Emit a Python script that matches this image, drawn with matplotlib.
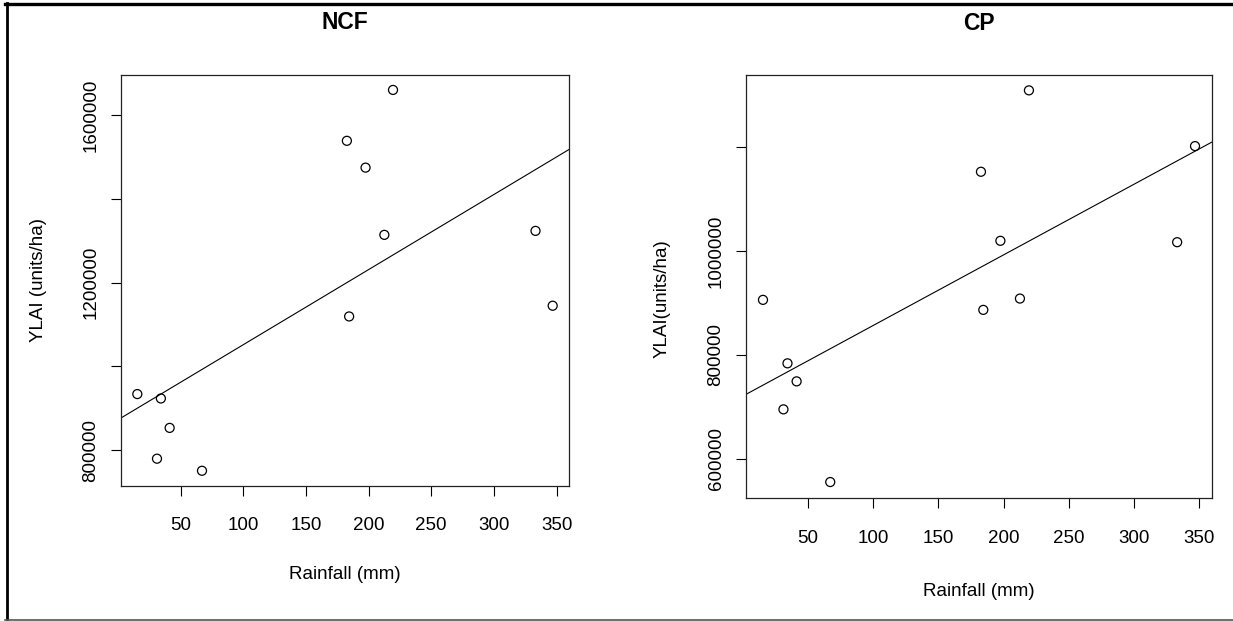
import matplotlib
matplotlib.use("Agg")
import matplotlib.pyplot as plt
from matplotlib.lines import Line2D
import numpy as np

# values
rainfall = [15.5, 34.3, 41.3, 31.2, 67.1, 182.7, 197.6, 219.5, 212.6, 184.5, 333.2, 346.9]
ylai_ncf = [934100, 923600, 853400, 779900, 751100, 1538400, 1474400,
            1659800, 1314000, 1119300, 1323500, 1144900]
ylai_cp = [906000, 783800, 749100, 695200, 555300, 1152600, 1019700,
           1309300, 908500, 886700, 1017000, 1202000]

x_ticks = [50, 100, 150, 200, 250, 300, 350]
ncf_yticks = [800000, 1000000, 1200000, 1400000, 1600000]
ncf_ylabels = ["800000", "", "1200000", "", "1600000"]
cp_yticks = [600000, 800000, 1000000, 1200000]
cp_ylabels = ["600000", "800000", "1000000", ""]

plt.rcParams['font.family'] = ['Liberation Sans', 'DejaVu Sans']
FS = 13.5

fig = plt.figure(figsize=(12.33, 6.21), dpi=100)
W, H = 1233, 621


def r_lim(v):
    v = np.asarray(v, dtype=float)
    r = v.max() - v.min()
    return v.min() - 0.04 * r, v.max() + 0.04 * r


def panel(box, x, y, yticks, ylabels, title, ylabel, xpad, xlab_y, ylab_x, ylab_y, title_y):
    l, t, r, b = box
    ax = fig.add_axes([l / W, 1 - b / H, (r - l) / W, (b - t) / H])
    ax.scatter(x, y, s=42, facecolors='none', edgecolors='black', linewidths=0.9, zorder=3)
    ax.set_xlim(r_lim(x))
    ax.set_ylim(r_lim(y))
    # least squares line, like abline(lm(y ~ x))
    k, c = np.polyfit(x, y, 1)
    xs = np.array(ax.get_xlim())
    ax.plot(xs, k * xs + c, color='black', lw=0.8)
    ax.set_xticks(x_ticks)
    ax.set_yticks(yticks)
    ax.set_yticklabels(ylabels, rotation=90, va='center')
    ax.tick_params(direction='out', length=7.2, width=0.8, labelsize=FS, colors='black')
    ax.tick_params(axis='x', pad=xpad)
    ax.tick_params(axis='y', pad=8)
    for s in ax.spines.values():
        s.set_linewidth(0.9)
        s.set_color('#222222')
    ax.set_xlabel("Rainfall (mm)", fontsize=FS)
    ax.xaxis.label.set_va('center')
    ax.xaxis.set_label_coords(0.5, xlab_y)
    ax.set_ylabel(ylabel, fontsize=FS)
    ax.yaxis.label.set_va('center')
    ax.yaxis.set_label_coords(ylab_x, ylab_y)
    ax.text(0.5, title_y, title, transform=ax.transAxes, ha='center', va='center',
            fontsize=16.5, fontweight='bold')
    return ax


panel((120.7, 74.7, 569.3, 486.0), rainfall, ylai_ncf, ncf_yticks, ncf_ylabels,
      "NCF", "YLAI (units/ha)", 15, -0.216, -0.184, 0.5, 1.126)
panel((745.7, 74.7, 1212.3, 497.7), rainfall, ylai_cp, cp_yticks, cp_ylabels,
      "CP", "YLAI(units/ha)", 16, -0.221, -0.179, 0.47, 1.122)

# outer frame of the original image
fig.add_artist(Line2D([5 / W, 1], [1 - 4 / H, 1 - 4 / H], transform=fig.transFigure,
                      color='black', lw=2.4))
fig.add_artist(Line2D([6.5 / W, 6.5 / W], [1 - 3 / H, 1 - 619 / H], transform=fig.transFigure,
                      color='black', lw=2.0))
fig.add_artist(Line2D([5 / W, 1], [1 - 619.5 / H, 1 - 619.5 / H], transform=fig.transFigure,
                      color='#555555', lw=1.2))

fig.savefig("out.png", dpi=100)
